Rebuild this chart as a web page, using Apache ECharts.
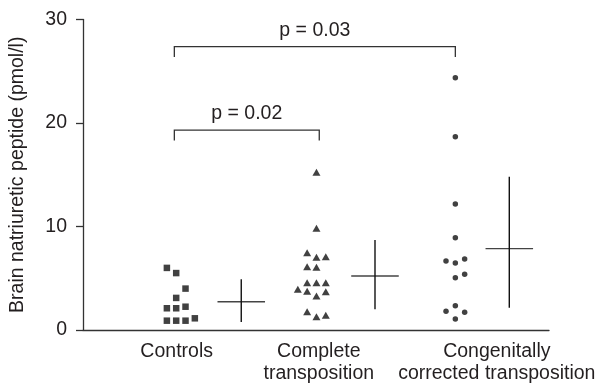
<!DOCTYPE html>
<html>
<head>
<meta charset="utf-8">
<script src="https://cdn.jsdelivr.net/npm/echarts@6/dist/echarts.min.js"></script>
<style>
html,body{margin:0;padding:0;background:#fff;}
#chart{width:600px;height:387px;}
</style>
</head>
<body>
<div id="chart"></div>
<script>
// ---- data ----
const categories = ['Controls', 'Complete\ntransposition', 'Congenitally\ncorrected transposition'];
const yTicks = [0, 10, 20, 30];
const yTitle = 'Brain natriuretic peptide (pmol/l)';

// individual values (pmol/l) and their column in the dot cluster
const controlsValues = [6.0, 5.5, 4.0, 3.1, 2.1, 2.1, 2.25, 0.9, 0.9, 0.9, 1.13];
const controlsColumn = [-1, 0, 1, 0, -1, 0, 1, -1, 0, 1, 2];
const completeValues = [15.24, 9.83, 7.47, 7.02, 7.08, 6.12, 6.06, 4.57, 4.57, 4.57, 3.93, 3.74, 3.70, 3.29, 1.77, 1.29, 1.42];
const completeColumn = [0, 0, -1, 0, 1, -1, 0, -1, 0, 1, -2, -1, 1, 0, -1, 0, 1];
const congenitalValues = [24.38, 18.68, 12.17, 8.92, 6.67, 6.47, 6.86, 5.06, 5.38, 2.35, 1.80, 1.71, 1.06];
const congenitalColumn = [0, 0, 0, 0, -1, 0, 1, 0, 1, 0, -1, 1, 0];

// summary markers: centre and vertical extent
const summaryMid = [2.73, 5.22, 7.86];
const summaryLow = [0.77, 2.0, 2.15];
const summaryHigh = [4.90, 8.70, 14.81];

// significance brackets
const pLabels = ['p = 0.02', 'p = 0.03'];
const pFrom = [0, 0];
const pTo = [1, 2];
const pLevel = [19.32, 27.37];

// ---- layout (x positions in axis units) ----
const groupX = [10, 25.05, 39.95];
const summaryX = [16.98, 31.33, 45.74];
const summaryHalf = 2.55;
const labelX = [10.05, 25.3, 44.4];
const bracketEnds = [9.8, 25.35, 39.95];
const bracketDrop = 1.0;

const ink = '#231f20';
const markInk = '#111';
const font = 'Liberation Sans, Arial, Helvetica, sans-serif';
const fs = 19.5;

function pts(values, cols, g) {
  return values.map((v, i) => [groupX[g] + cols[i], v]);
}

const chart = echarts.init(document.getElementById('chart'), null, {renderer: 'canvas'});

const option = {
  animation: false,
  backgroundColor: '#fff',
  grid: {left: 83, right: 51, top: 19.5, bottom: 57, containLabel: false},
  xAxis: {
    type: 'value', min: 0, max: 50,
    axisLine: {show: true, onZero: false, lineStyle: {color: '#333', width: 1.3}},
    axisTick: {show: false}, axisLabel: {show: false}, splitLine: {show: false}
  },
  yAxis: {
    type: 'value', min: yTicks[0], max: yTicks[yTicks.length - 1], interval: 10,
    name: yTitle, nameLocation: 'middle', nameGap: 55, nameRotate: 90,
    nameTextStyle: {fontFamily: font, fontSize: fs, color: ink},
    axisLine: {show: true, lineStyle: {color: '#333', width: 1.3}},
    axisTick: {show: true, inside: false, length: 7, lineStyle: {color: '#333', width: 1.3}},
    axisLabel: {margin: 16, fontFamily: font, fontSize: fs, color: ink,
      formatter: v => yTicks.indexOf(v) >= 0 ? String(v) : ''},
    splitLine: {show: false}
  },
  series: [
    {type: 'scatter', symbol: 'rect', symbolSize: 6.5, itemStyle: {color: markInk},
     data: pts(controlsValues, controlsColumn, 0)},
    {type: 'scatter', symbol: 'triangle', symbolSize: [8, 7], itemStyle: {color: markInk},
     data: pts(completeValues, completeColumn, 1)},
    {type: 'scatter', symbol: 'circle', symbolSize: 5.5, itemStyle: {color: markInk},
     data: pts(congenitalValues, congenitalColumn, 2)},
    {
      type: 'custom', silent: true,
      data: summaryMid.map((m, i) => [summaryX[i], m, summaryLow[i], summaryHigh[i]]),
      renderItem: function (params, api) {
        const x = api.value(0);
        const pM = api.coord([x, api.value(1)]);
        const pL = api.coord([x - summaryHalf, api.value(1)]);
        const pR = api.coord([x + summaryHalf, api.value(1)]);
        const pLo = api.coord([x, api.value(2)]);
        const pHi = api.coord([x, api.value(3)]);
        return {type: 'group', children: [
          {type: 'line', shape: {x1: pL[0], y1: pM[1], x2: pR[0], y2: pM[1]}, style: {stroke: '#444', lineWidth: 1.4}},
          {type: 'line', shape: {x1: pM[0], y1: pHi[1], x2: pM[0], y2: pLo[1]}, style: {stroke: markInk, lineWidth: 1.4}}
        ]};
      }
    },
    {
      type: 'custom', silent: true,
      data: pLabels.map((t, i) => [bracketEnds[pFrom[i]], bracketEnds[pTo[i]], pLevel[i]]),
      renderItem: function (params, api) {
        const a = api.coord([api.value(0), api.value(2)]);
        const b = api.coord([api.value(1), api.value(2)]);
        const d = api.coord([api.value(0), api.value(2) - bracketDrop]);
        const st = {stroke: '#333', lineWidth: 1.3, fill: null};
        return {type: 'group', children: [
          {type: 'polyline', shape: {points: [[a[0], d[1]], a, b, [b[0], d[1]]]}, style: st},
          {type: 'text', x: (a[0] + b[0]) / 2, y: a[1] - 16,
           style: {text: pLabels[params.dataIndex], font: fs + 'px ' + font, fill: ink, align: 'center', verticalAlign: 'middle'}}
        ]};
      }
    },
    {
      type: 'custom', silent: true,
      data: categories.map((c, i) => [labelX[i], 0]),
      renderItem: function (params, api) {
        const p = api.coord([api.value(0), api.value(1)]);
        return {type: 'text', x: p[0], y: p[1] + 11,
          style: {text: categories[params.dataIndex], fontFamily: font, fontSize: fs, lineHeight: 22,
            fill: ink, align: 'center', verticalAlign: 'top'}};
      }
    }
  ]
};
chart.setOption(option);
</script>
</body>
</html>
